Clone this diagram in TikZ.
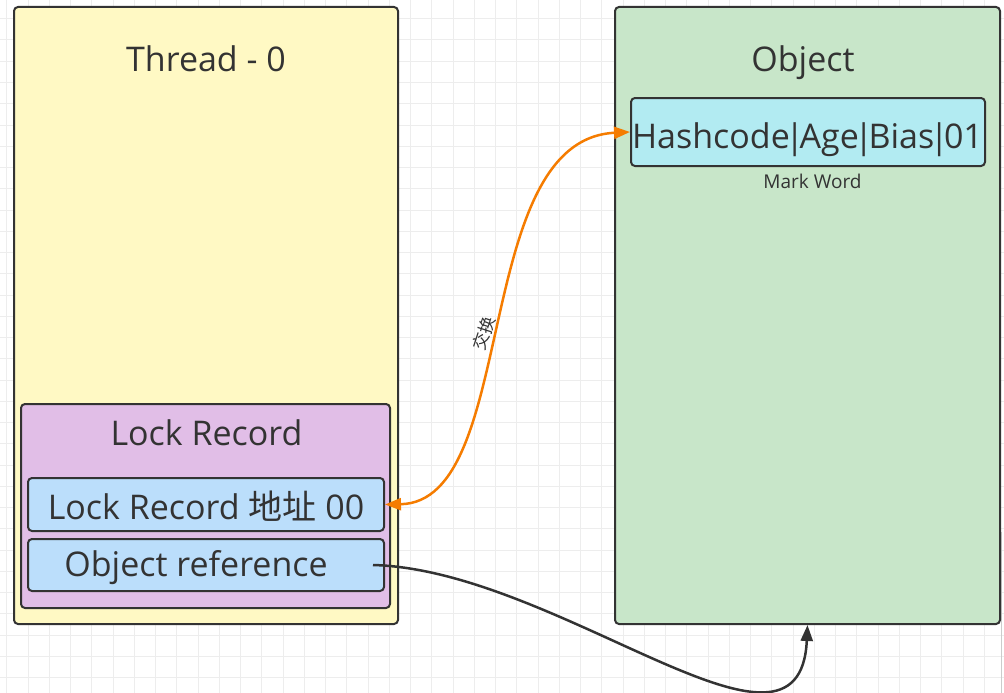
\documentclass[tikz,border=0pt]{standalone}
\usepackage{fontspec}
\setmainfont{Open Sans}
\newfontfamily\cjk{Noto Sans CJK SC}
\usetikzlibrary{arrows.meta}
\definecolor{bordc}{HTML}{333333}
\definecolor{txtc}{HTML}{333333}
\definecolor{yelc}{HTML}{FFF9C4}
\definecolor{grnc}{HTML}{C8E6C9}
\definecolor{purc}{HTML}{E1BEE7}
\definecolor{bluc}{HTML}{BBDEFB}
\definecolor{cyac}{HTML}{B2EBF2}
\definecolor{orac}{HTML}{F57C00}
\definecolor{gridc}{HTML}{EDEDED}
\newcommand{\vb}{\kern-4.5pt|\kern-4.5pt}
\tikzset{
  box/.style={draw=bordc, line width=2pt, rounded corners=4pt, rectangle, inner sep=0pt},
  bigtxt/.style={text=txtc, inner sep=0pt, anchor=base, font=\fontsize{34}{40}\selectfont},
  smalltxt/.style={text=txtc, inner sep=0pt, font=\fontsize{19}{22}\selectfont},
}
\begin{document}
\begin{tikzpicture}[x=1pt,y=-1pt]
\useasboundingbox (0,0) rectangle (1004,693);
\fill[white] (0,0) rectangle (1004,693);
\foreach \i in {0,...,47} {\draw[gridc, line width=1pt] ({6.75+21.25*\i},0) -- ({6.75+21.25*\i},693);}
\foreach \j in {0,...,32} {\draw[gridc, line width=1pt] (0,{18.75+21.25*\j}) -- (1004,{18.75+21.25*\j});}
\draw[gray!40, line width=1pt] (1001,532) -- (1001,693);

\node[box, fill=yelc, minimum width=384pt, minimum height=617pt] (thread) at (206,315.5) {};
\node[box, fill=grnc, minimum width=385pt, minimum height=617pt] (object) at (807.5,315.5) {};
\node[bigtxt] (threadt) at (206,72) {Thread - 0};
\node[bigtxt] (objectt) at (803,72) {Object};

\node[box, fill=purc, minimum width=369pt, minimum height=204pt] (lr) at (205.5,506) {};
\node[bigtxt] (lrt) at (206.5,445) {Lock Record};
\node[box, fill=bluc, minimum width=356pt, minimum height=53pt] (lraddr) at (206,504.5) {};
\node[bigtxt] (lraddrt) at (206,519) {Lock Record {\cjk 地址} 00};
\node[box, fill=bluc, minimum width=356pt, minimum height=52pt] (objref) at (206,565) {};
\node[bigtxt] (objreft) at (196,576) {Object reference};

\node[box, fill=cyac, minimum width=354pt, minimum height=68pt] (hash) at (808,132) {};
\node[bigtxt] (hasht) at (807.5,148) {Hashcode\vb Age\vb Bias\vb 01};
\node[smalltxt, anchor=base] (mw) at (812.5,188) {Mark Word};

\draw[orac, line width=2.5pt, {Triangle[length=16pt,width=12pt]}-{Triangle[length=16pt,width=12pt]}]
  (lraddr.east) .. controls (520,502) and (470,140) .. (hash.west);
\node[text=txtc, inner sep=0pt, font=\cjk\fontsize{17}{20}\selectfont, rotate=72] (swap) at (484,333) {交换};

\draw[bordc, line width=2.5pt, -{Triangle[length=16pt,width=12pt]}]
  ([xshift=-12pt]objref.east) .. controls (560,570) and (800,790) .. (object.south);
\end{tikzpicture}
\end{document}
